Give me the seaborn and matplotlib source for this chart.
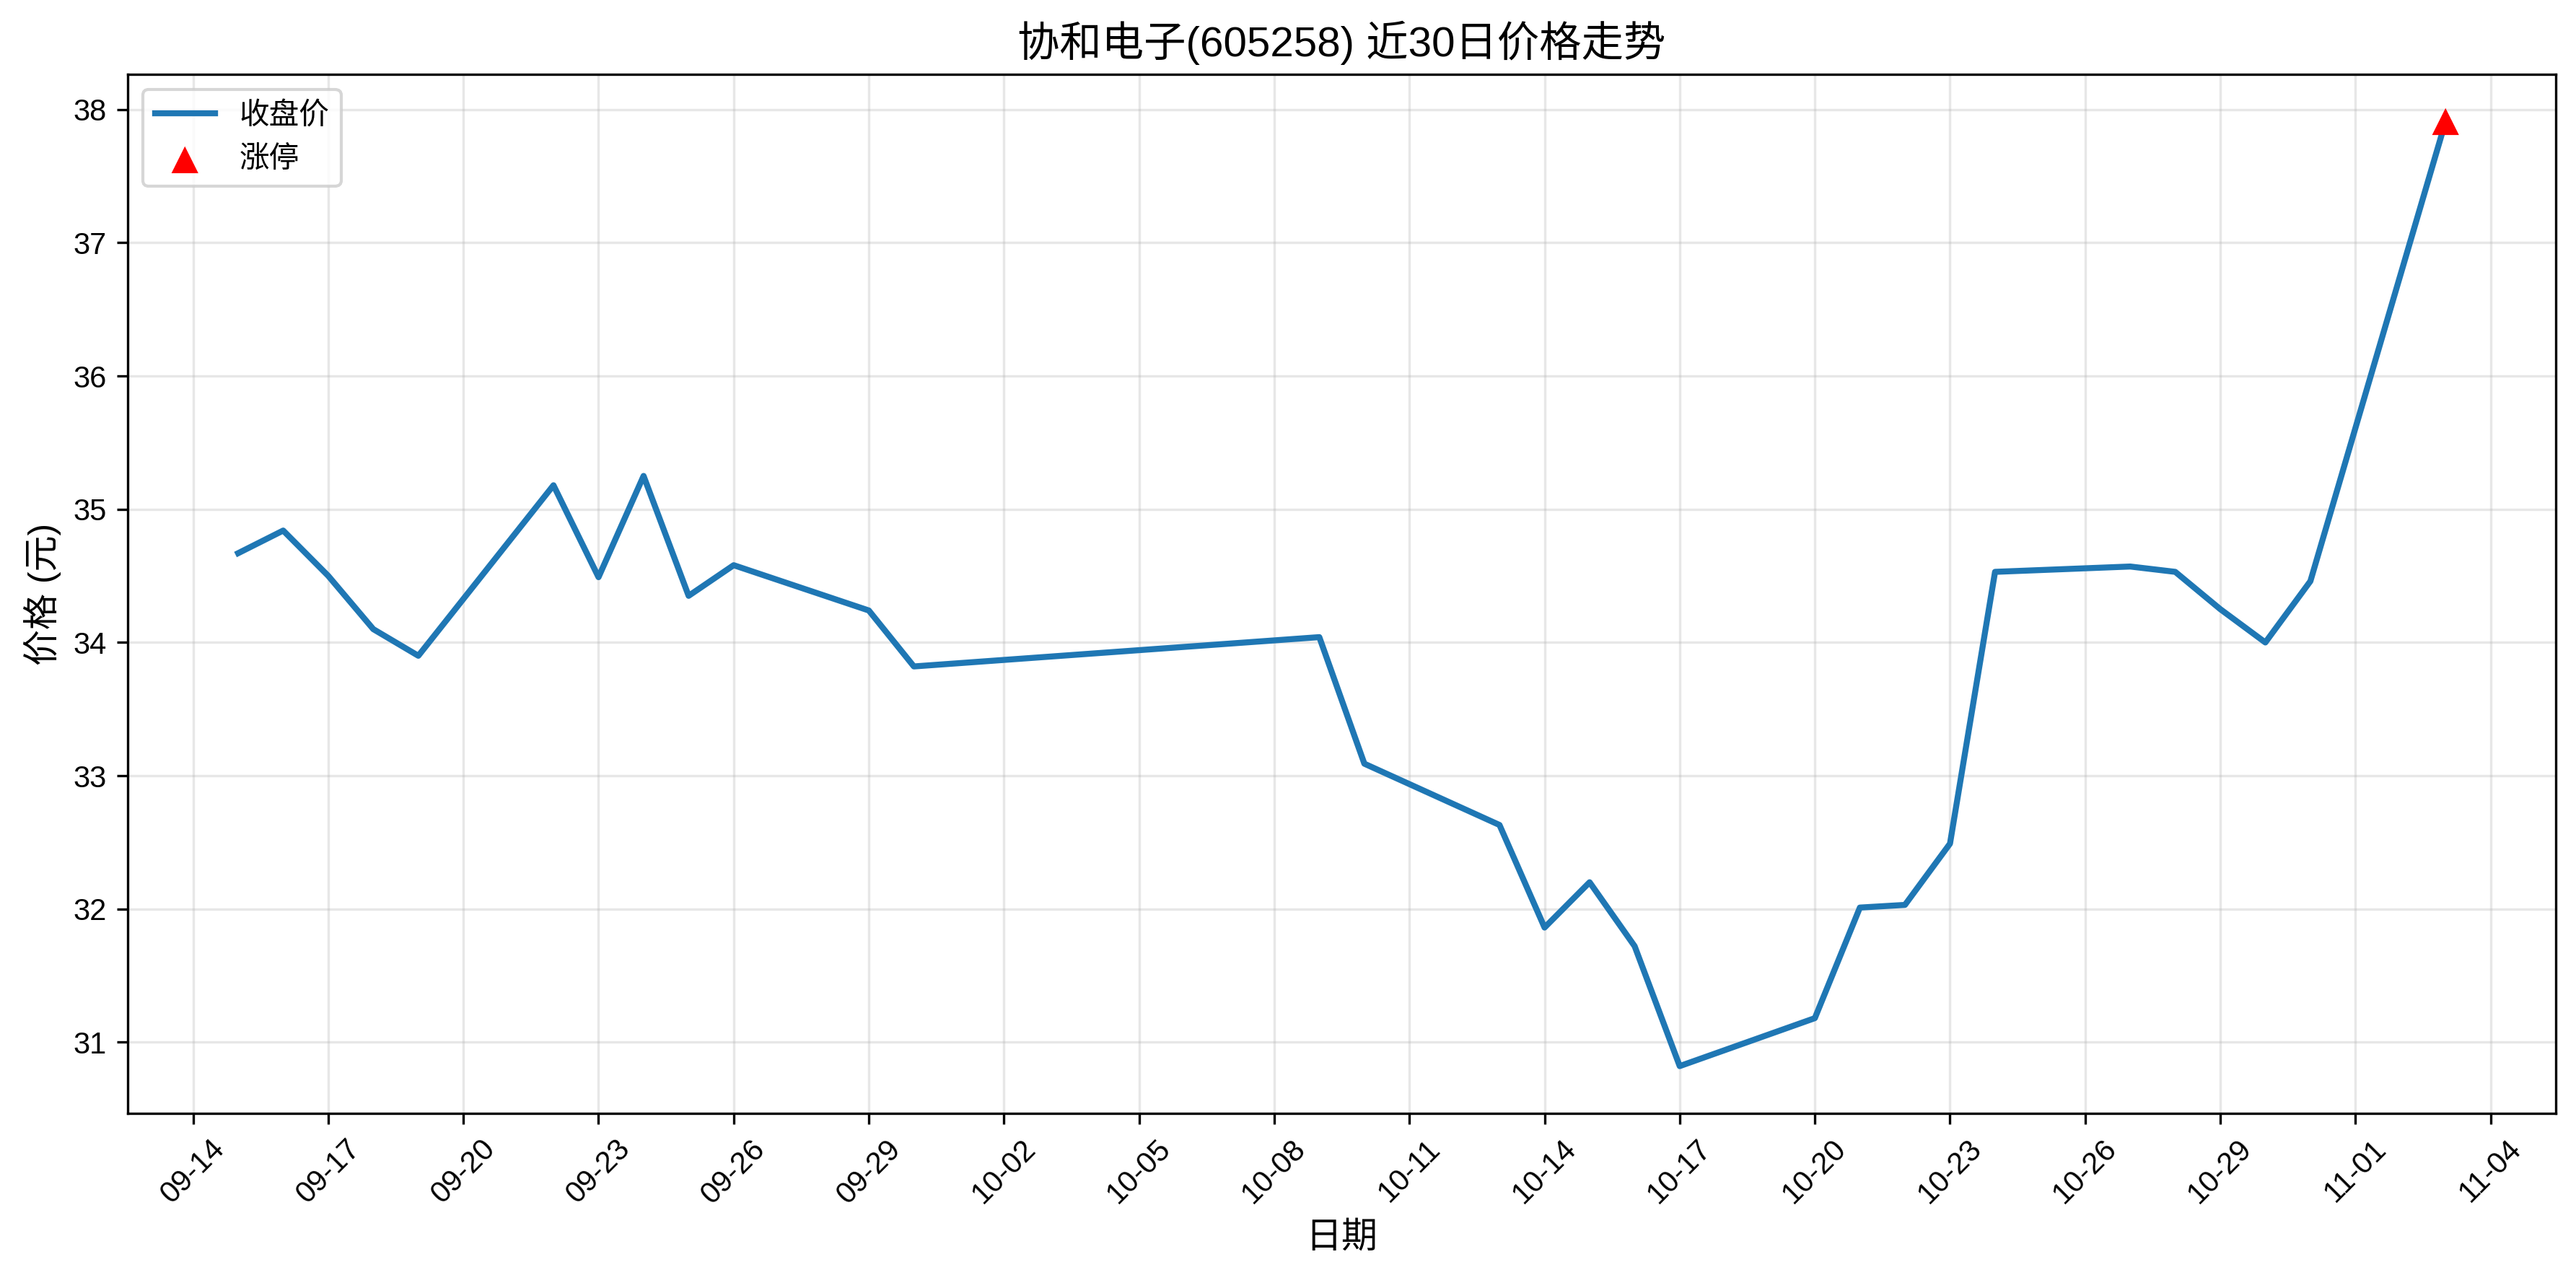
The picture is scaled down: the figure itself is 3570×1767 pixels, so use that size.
import pandas as pd
import matplotlib
matplotlib.use("Agg")
import matplotlib.pyplot as plt
import matplotlib.dates as mdates
import seaborn as sns

# Data (2025 trading days)
dates = ["2025-09-15", "2025-09-16", "2025-09-17", "2025-09-18", "2025-09-19",
         "2025-09-22", "2025-09-23", "2025-09-24", "2025-09-25", "2025-09-26",
         "2025-09-29", "2025-09-30", "2025-10-09", "2025-10-10", "2025-10-13",
         "2025-10-14", "2025-10-15", "2025-10-16", "2025-10-17", "2025-10-20",
         "2025-10-21", "2025-10-22", "2025-10-23", "2025-10-24", "2025-10-27",
         "2025-10-28", "2025-10-29", "2025-10-30", "2025-10-31", "2025-11-03"]
close = [34.67, 34.84, 34.50, 34.10, 33.90,
         35.18, 34.49, 35.25, 34.35, 34.58,
         34.24, 33.82, 34.04, 33.09, 32.63,
         31.86, 32.20, 31.72, 30.82, 31.18,
         32.01, 32.03, 32.49, 34.53, 34.57,
         34.53, 34.25, 34.00, 34.46, 37.91]
limit_up_dates = ["2025-11-03"]
limit_up_prices = [37.91]

plt.rcParams['font.family'] = ['Liberation Sans', 'Noto Sans CJK SC', 'DejaVu Sans']
plt.rcParams['axes.unicode_minus'] = False

df = pd.DataFrame({"date": pd.to_datetime(dates), "close": close})
lu = pd.DataFrame({"date": pd.to_datetime(limit_up_dates), "close": limit_up_prices})

fig, ax = plt.subplots(figsize=(11.9, 5.89), dpi=300)
sns.lineplot(data=df, x="date", y="close", ax=ax, color="#1f77b4", linewidth=2, label="收盘价")
sns.scatterplot(data=lu, x="date", y="close", ax=ax, color="red", marker="^", s=80,
                edgecolor="none", label="涨停", zorder=5)

ax.set_title("协和电子(605258) 近30日价格走势", fontsize=14)
ax.set_xlabel("日期", fontsize=12)
ax.set_ylabel("价格 (元)", fontsize=12)
ax.grid(True, alpha=0.3)
ax.legend(loc="upper left")
ax.xaxis.set_major_locator(mdates.DayLocator(interval=3))
ax.xaxis.set_major_formatter(mdates.DateFormatter("%m-%d"))
plt.setp(ax.get_xticklabels(), rotation=45)

fig.subplots_adjust(left=0.0496, right=0.9922, top=0.9417, bottom=0.1268)
plt.savefig("out.png", dpi=300)
